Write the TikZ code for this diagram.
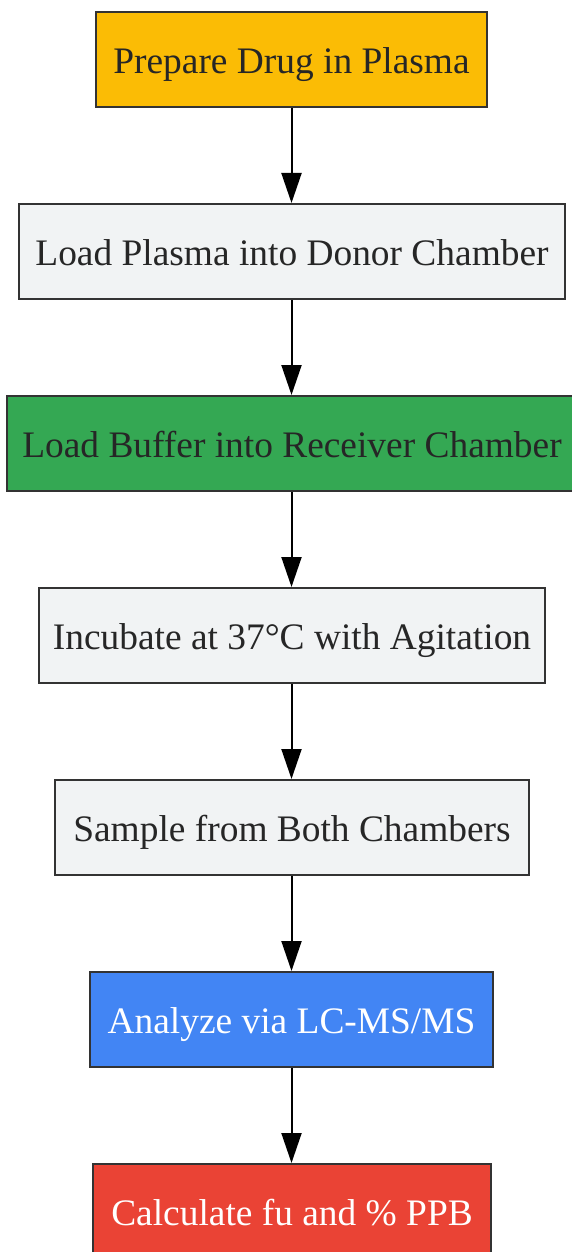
\documentclass[tikz,border=0pt]{standalone}
\usepackage{fontspec}
\setmainfont{Liberation Serif}
\usetikzlibrary{arrows.meta}
\definecolor{cyellow}{HTML}{FBBC05}
\definecolor{cgray}{HTML}{F1F3F4}
\definecolor{cgreen}{HTML}{34A853}
\definecolor{cblue}{HTML}{4285F4}
\definecolor{cred}{HTML}{EA4335}
\definecolor{cborder}{HTML}{333333}
\definecolor{ctext}{HTML}{262626}
\tikzset{
  stepbox/.style={draw=cborder, line width=2pt, rectangle, inner sep=0pt,
    minimum height=95pt, text=ctext, text height=28pt, text depth=0pt,
    font=\fontsize{37.4pt}{44pt}\selectfont},
  flowarrow/.style={draw=black, line width=2pt,
    -{Triangle[length=30pt,width=20pt]}, shorten >=0pt}
}
\begin{document}
\begin{tikzpicture}[x=1pt,y=-1pt]
\useasboundingbox (0,0) rectangle (572,1252);
\begin{scope}
\clip (0,0) rectangle (572,1252);
\node[stepbox, fill=cyellow, minimum width=391pt] (n1) at (291.5,59.5) {Prepare Drug in Plasma};
\node[stepbox, fill=cgray, minimum width=546pt] (n2) at (292,251.5) {Load Plasma into Donor Chamber};
\node[stepbox, fill=cgreen, minimum width=570pt] (n3) at (292,443.5) {Load Buffer into Receiver Chamber};
\node[stepbox, fill=cgray, minimum width=506pt] (n4) at (292,635.5) {Incubate at 37°C with Agitation};
\node[stepbox, fill=cgray, minimum width=474pt] (n5) at (292,827.5) {Sample from Both Chambers};
\node[stepbox, fill=cblue, text=white, minimum width=403pt] (n6) at (291.5,1019.5) {Analyze via LC-MS/MS};
\node[stepbox, fill=cred, text=white, minimum width=398pt] (n7) at (292,1211.5) {Calculate fu and \% PPB};
\end{scope}
\draw[flowarrow] (n1.south -| 291.5,0) -- (n2.north -| 291.5,0);
\draw[flowarrow] (n2.south -| 291.5,0) -- (n3.north -| 291.5,0);
\draw[flowarrow] (n3.south -| 291.5,0) -- (n4.north -| 291.5,0);
\draw[flowarrow] (n4.south -| 291.5,0) -- (n5.north -| 291.5,0);
\draw[flowarrow] (n5.south -| 291.5,0) -- (n6.north -| 291.5,0);
\draw[flowarrow] (n6.south -| 291.5,0) -- (n7.north -| 291.5,0);
\end{tikzpicture}
\end{document}
